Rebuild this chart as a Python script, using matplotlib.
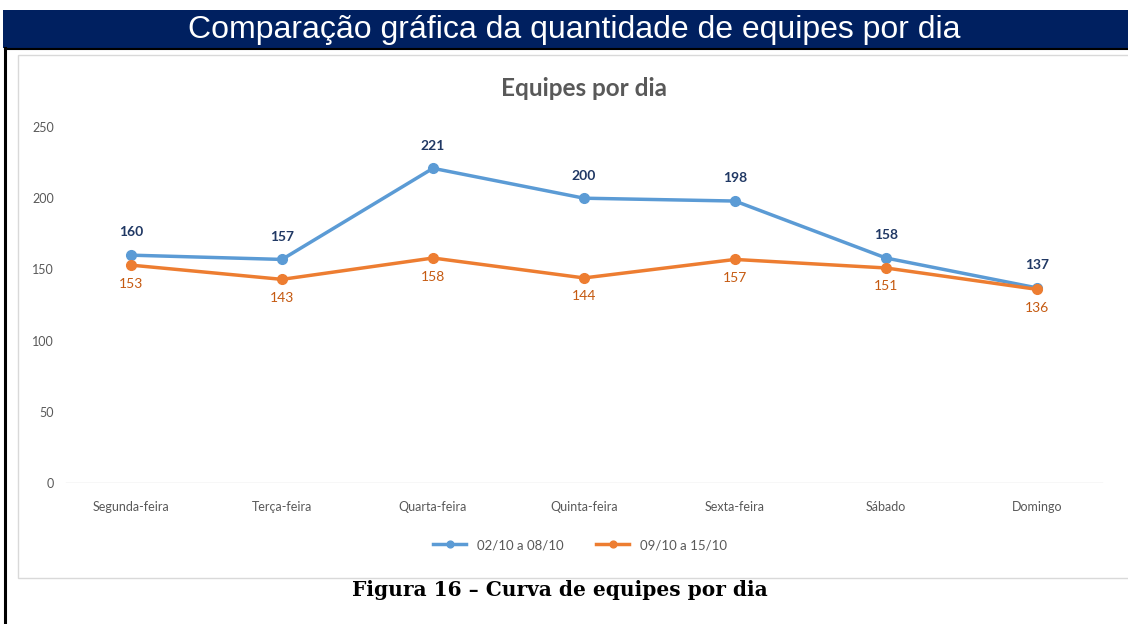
import matplotlib
matplotlib.use('Agg')
import matplotlib.pyplot as plt
from matplotlib.patches import Rectangle
from matplotlib.lines import Line2D

dias = ['Segunda-feira', 'Terça-feira', 'Quarta-feira', 'Quinta-feira',
        'Sexta-feira', 'Sábado', 'Domingo']
semana1 = [160, 157, 221, 200, 198, 158, 137]
semana2 = [153, 143, 158, 144, 157, 151, 136]
rotulos = ['02/10 a 08/10', '09/10 a 15/10']
yticks = [0, 50, 100, 150, 200, 250]

azul = '#5B9BD5'
laranja = '#ED7D31'
cinza = '#595959'

W, H = 1128, 624
fig = plt.figure(figsize=(W / 100, H / 100), dpi=100)
fig.patch.set_facecolor('white')

def fx(px):
    return px / W

def fy(py):
    return 1 - py / H

# header band
fig.patches.append(Rectangle((fx(3), fy(48)), fx(1125), 38 / H, transform=fig.transFigure,
                             facecolor='#002060', edgecolor='none', zorder=0))
fig.text(fx(574), fy(30), 'Comparação gráfica da quantidade de equipes por dia',
         color='white', fontsize=23, family='Liberation Sans', ha='center', va='center')
# black frame lines
fig.lines.append(Line2D([fx(5), fx(5)], [fy(48), 0], transform=fig.transFigure,
                        color='black', lw=2.2))
fig.lines.append(Line2D([fx(5), 1], [fy(49), fy(49)], transform=fig.transFigure,
                        color='black', lw=1.5))
# chart border
fig.patches.append(Rectangle((fx(18), fy(578)), fx(1115), 523 / H, transform=fig.transFigure,
                             facecolor='white', edgecolor='#D9D9D9', lw=1, zorder=0))

ax = fig.add_axes([fx(55.5), fy(483), fx(1057), 356 / H])
ax.set_zorder(5)
ax.set_facecolor('none')
x = list(range(len(dias)))
ax.plot(x, semana1, color=azul, lw=2.5, marker='o', ms=7, label=rotulos[0], zorder=3)
ax.plot(x, semana2, color=laranja, lw=2.5, marker='o', ms=7, label=rotulos[1], zorder=3)

for xi, v in zip(x, semana1):
    ax.annotate(str(v), (xi, v), xytext=(0, 12), textcoords='offset points', ha='center',
                va='bottom', color='#203864', fontsize=10, fontweight='bold', family='Lato')
for xi, v in zip(x, semana2):
    ax.annotate(str(v), (xi, v), xytext=(0, -9), textcoords='offset points', ha='center',
                va='top', color='#C55A11', fontsize=10, family='Lato')

ax.set_xlim(-0.5, 6.5)
ax.set_ylim(0, 250)
ax.set_yticks(yticks)
ax.set_xticks(x)
ax.set_xticklabels(dias)
ax.tick_params(length=0, colors=cinza, labelsize=9, pad=13)
ax.tick_params(axis='y', pad=1)
for lab in ax.get_xticklabels() + ax.get_yticklabels():
    lab.set_family('Lato')
for s in ax.spines.values():
    s.set_visible(False)
ax.axhline(0, color='#D9D9D9', lw=1, xmin=0.01, xmax=0.99)

ax.set_title('Equipes por dia', color=cinza, fontsize=17.5, fontweight='bold', family='Lato', pad=22)

fig.legend(loc='center', bbox_to_anchor=(fx(580), fy(545)), ncol=2, frameon=False,
           labelcolor=cinza, prop={'family': 'Lato', 'size': 9.5},
           handlelength=2.5, columnspacing=2.5, markerscale=0.7)

fig.text(fx(560), fy(590), 'Figura 16 – Curva de equipes por dia', fontsize=14.5,
         fontweight='bold', family='DejaVu Serif', ha='center', va='center')

fig.savefig('out.png', dpi=100)
